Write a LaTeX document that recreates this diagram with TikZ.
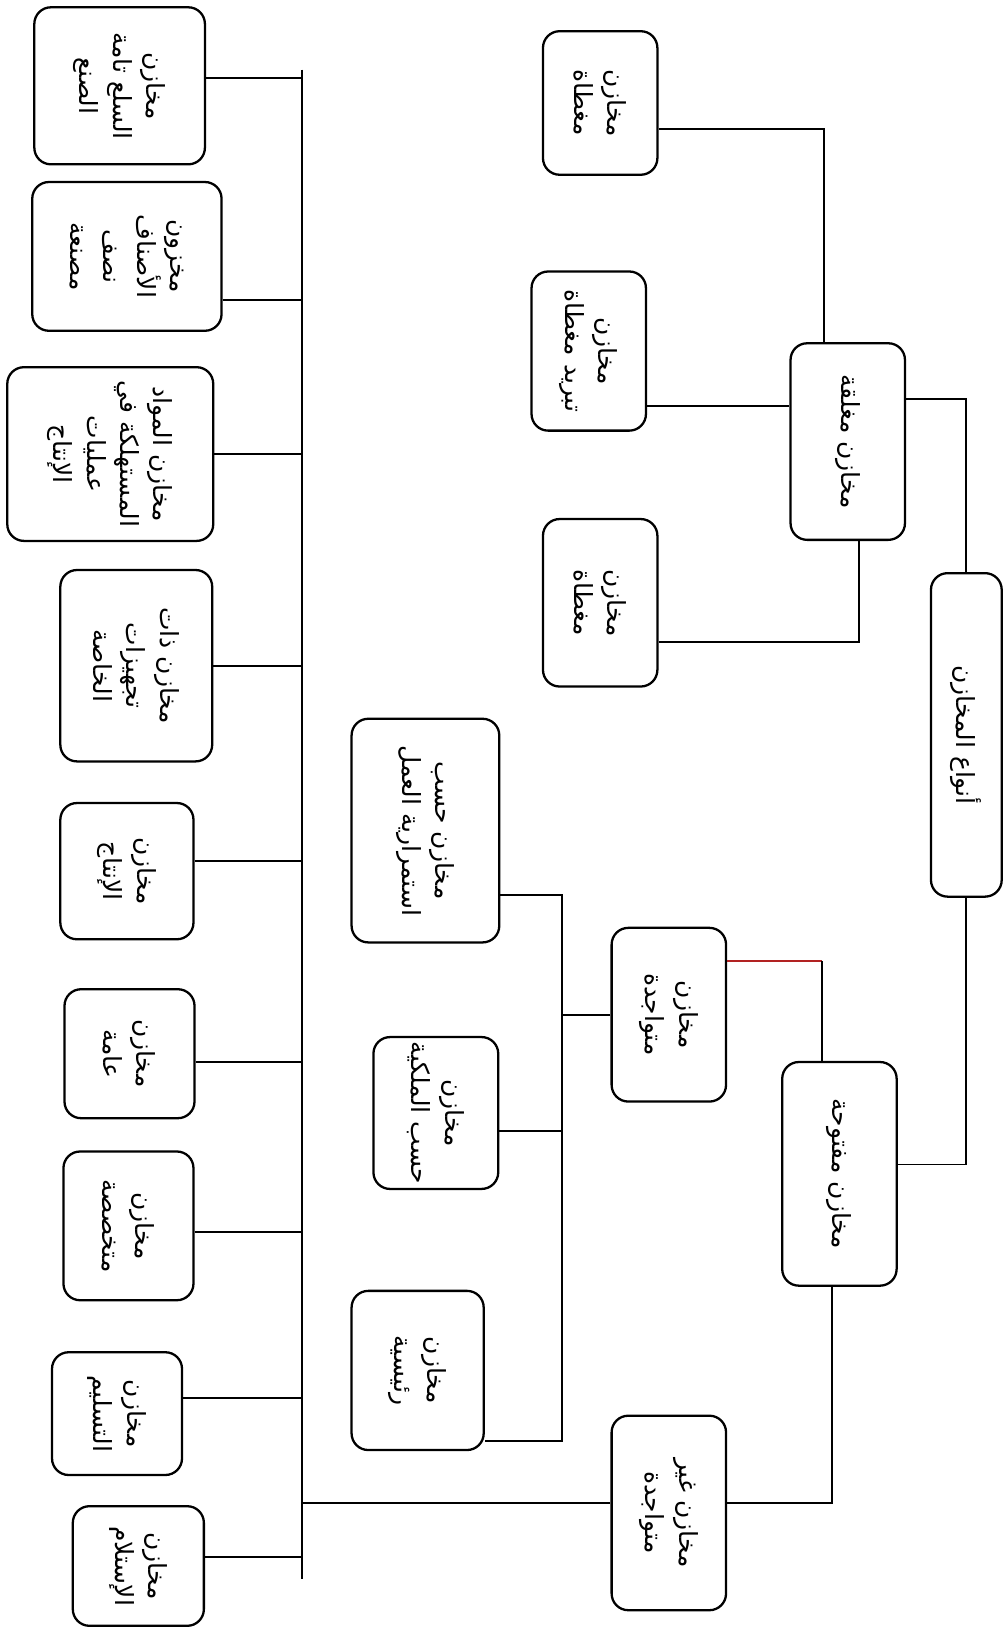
\documentclass[tikz,border=0pt]{standalone}
\usepackage{fontspec}
\usepackage{tikz}
\usetikzlibrary{positioning}
\TeXXeTstate=1
\newfontfamily\arabicfont[Script=Arabic]{DejaVu Sans}
\newcommand{\artxt}[1]{\beginR #1\endR}
\definecolor{linkred}{RGB}{178,34,34}
\tikzset{
  store-box/.style={draw=black, line width=1.1pt, rounded corners=8pt, fill=white,
    rotate=-90, align=center, inner sep=2pt,
    font=\arabicfont\fontsize{12}{16}\selectfont},
  wh/.style 2 args={minimum width=#2*0.5pt, minimum height=#1*0.5pt},
  store-link/.style={draw=black, line width=0.95pt}
}

\begin{document}
\begin{tikzpicture}[x=0.5pt, y=-0.5pt]
  \useasboundingbox (0,0) rectangle (964,1568);
  % root and first level
  \node[store-box, wh={68}{311}] (root) at (929,706.5) {\artxt{أنواع المخازن}};
  \node[store-box, wh={110}{189}] (closed) at (815,424.5) {\artxt{مخازن مغلقة}};
  \node[store-box, wh={110}{215}] (open) at (807,1128.5) {\artxt{مخازن مفتوحة}};
  % closed stores
  \node[store-box, wh={110}{138}] (covtop) at (577,99) {\artxt{مخازن}\\\artxt{مغطاة}};
  \node[store-box, wh={110}{153}] (cool) at (566,337.5) {\artxt{مخازن}\\\artxt{تبريد مغطاة}};
  \node[store-box, wh={110}{161}] (covbot) at (577,579.5) {\artxt{مخازن}\\\artxt{مغطاة}};
  % open stores
  \node[store-box, wh={110}{167}] (exist) at (643,975.5) {\artxt{مخازن}\\\artxt{متواجدة}};
  \node[store-box, wh={110}{187}] (nonexist) at (643,1454.5) {\artxt{مخازن غير}\\\artxt{متواجدة}};
  \node[store-box, wh={142}{215}] (cont) at (409,798.5) {\artxt{مخازن حسب}\\\artxt{استمرارية العمل}};
  \node[store-box, wh={120}{146}] (own) at (419,1070) {\artxt{مخازن}\\\artxt{حسب الملكية}};
  \node[store-box, wh={127}{153}] (main) at (401.5,1317.5) {\artxt{مخازن}\\\artxt{رئيسية}};
  % leaves of the long bus
  \node[store-box, wh={164}{151}] (leaf1) at (115,82.5) {\artxt{مخازن}\\\artxt{السلع تامة}\\\artxt{الصنع}};
  \node[store-box, wh={182}{143}] (leaf2) at (122,246.5) {\artxt{مخزون}\\\artxt{الأصناف}\\\artxt{نصف}\\\artxt{مصنعة}};
  \node[store-box, wh={198}{167}] (leaf3) at (106,436.5) {\artxt{مخازن المواد}\\\artxt{المستهلكة في}\\\artxt{عمليات}\\\artxt{الإنتاج}};
  \node[store-box, wh={146}{184}] (leaf4) at (131,640) {\artxt{مخازن ذات}\\\artxt{تجهيزات}\\\artxt{الخاصة}};
  \node[store-box, wh={128}{131}] (leaf5) at (122,837.5) {\artxt{مخازن}\\\artxt{الإنتاج}};
  \node[store-box, wh={125}{124}] (leaf6) at (124.5,1013) {\artxt{مخازن}\\\artxt{عامة}};
  \node[store-box, wh={125}{143}] (leaf7) at (123.5,1178.5) {\artxt{مخازن}\\\artxt{متخصصة}};
  \node[store-box, wh={125}{118}] (leaf8) at (112.5,1359) {\artxt{مخازن}\\\artxt{التسليم}};
  \node[store-box, wh={126}{115}] (leaf9) at (133,1505.5) {\artxt{مخازن}\\\artxt{الإستلام}};

  % buses
  \coordinate (bustop) at (290,67);
  \coordinate (busbot) at (290,1518);
  \coordinate (bus2) at (540,860);
  \draw[store-link] (bustop) -- (busbot);

  % root connectors
  \draw[store-link] ([yshift=20.25pt]closed.north) -| (root.west);
  \draw[store-link] (root.east) |- ([yshift=4.5pt]open.north);

  % closed stores
  \draw[store-link] ([yshift=-12.5pt]covtop.north) -| ([xshift=-11.5pt]closed.west);
  \coordinate (coolp) at ([yshift=-26.25pt]cool.north);
  \draw[store-link] (coolp) -- (coolp -| closed.south);
  \draw[store-link] ([yshift=-18.75pt]covbot.north) -| ([xshift=5.5pt]closed.east);

  % open stores
  \coordinate (existp) at ([yshift=25.75pt]exist.north);
  \coordinate (openp) at ([xshift=-8.5pt]open.west);
  \draw[store-link, draw=linkred] (existp) -- (existp -| openp);
  \draw[store-link] (existp -| openp) -- (openp);
  \coordinate (nonp) at ([yshift=4.75pt]nonexist.north);
  \draw[store-link] (nonp) -| ([xshift=-3.5pt]open.east);
  \draw[store-link] (exist.south) -- (exist.south -| bus2);

  % second bus
  \coordinate (contp) at ([yshift=-30.75pt]cont.north);
  \coordinate (ownp) at ([yshift=-8.5pt]own.north);
  \coordinate (mainp) at ([yshift=-33.75pt]main.north);
  \draw[store-link] (contp) -- (contp -| bus2) -- (mainp -| bus2) -- (mainp);
  \draw[store-link] (ownp) -- (ownp -| bus2);

  % long bus
  \coordinate (nonq) at ([yshift=4.75pt]nonexist.south);
  \draw[store-link] (nonq) -- (nonq -| bustop);
  \foreach \n/\s in {1/3.75, 2/-20.75, 3/0, 4/0, 5/4.75, 6/-4, 7/-2.75, 8/7.5, 9/4.25} {
    \coordinate (leafp\n) at ([yshift=\s pt]leaf\n.north);
    \draw[store-link] (leafp\n) -- (leafp\n -| bustop);
  }
\end{tikzpicture}
\end{document}
